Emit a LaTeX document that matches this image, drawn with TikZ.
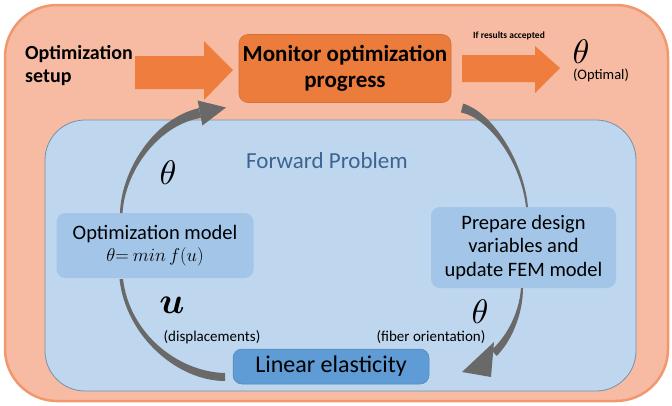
\documentclass[tikz,border=0pt]{standalone}
\usepackage{graphicx}
\usepackage{amsmath}
\usepackage{fontspec}
\setmainfont{Carlito}
\definecolor{outerfill}{RGB}{246,187,162}
\definecolor{outerdraw}{RGB}{241,152,110}
\definecolor{innerfill}{RGB}{190,215,238}
\definecolor{innerdraw}{RGB}{120,145,170}
\definecolor{monfill}{RGB}{236,124,60}
\definecolor{blockcol}{RGB}{238,125,62}
\definecolor{lightbox}{RGB}{163,198,232}
\definecolor{linbox}{RGB}{95,155,212}
\definecolor{arcgray}{RGB}{105,105,105}
\definecolor{fwdtext}{RGB}{60,100,145}
\newcommand{\fs}[1]{\fontsize{#1}{1.15\dimexpr #1pt\relax}\selectfont}
\newcommand{\scmath}[2]{\scalebox{#1}{$#2$}}
\begin{document}
\begin{tikzpicture}[x=1pt,y=-1pt,
  boxbase/.style={rounded corners=9pt, inner sep=0pt, align=center, text=black},
  monbox/.style={boxbase, fill=monfill, draw=monfill!90!black, line width=0.6pt},
  lightnode/.style={boxbase, fill=lightbox},
  linnode/.style={boxbase, fill=linbox, draw=linbox!85!black, line width=0.5pt},
  label/.style={inner sep=0pt, align=center},
  arcfill/.style={fill=arcgray},
  blockfill/.style={fill=blockcol}]
\useasboundingbox (0,0) rectangle (672,405);
% frames
\draw[fill=outerfill, draw=outerdraw, line width=2.5pt, rounded corners=52pt] (5,5) rectangle (668,401);
\draw[fill=innerfill, draw=innerdraw, line width=0.8pt, rounded corners=40pt] (45,120) rectangle (636,391);

% nodes
\node[label, anchor=west, align=left, font=\fs{20}\bfseries] (setup) at (25,66) {Optimization\\setup};
\node[monbox, minimum width=212pt, minimum height=68pt, font=\fs{23}\bfseries] (mon) at (345,68.5) {Monitor optimization\\progress};
\node[label, font=\fs{9.5}\bfseries] (acc) at (509,36) {If results accepted};
\node[label] (thopt) at (581,52) {\scmath{3.4}{\theta}};
\node[label, font=\fs{14.5}] (optl) at (601,75) {(Optimal)};
\node[label, font=\fs{23}, text=fwdtext] (fwd) at (327,161) {Forward Problem};

\node[lightnode, minimum width=197pt, minimum height=65pt, font=\fs{20.5}] (opt) at (155,245.5)
  {Optimization model\\[-2pt]\scmath{0.9}{\theta{=}\ min\,f(u)}};
\node[lightnode, minimum width=185pt, minimum height=81pt, font=\fs{20.5}] (prep) at (523.5,247.5)
  {Prepare design\\variables and\\update FEM model};
\node[linnode, minimum width=196pt, minimum height=35pt, font=\fs{24}] (lin) at (331,366.5) {Linear elasticity};

\node[label] (thl) at (168,173) {\scmath{3.4}{\theta}};
\node[label] (ul) at (172,305) {\scmath{3.7}{\boldsymbol{u}}};
\node[label, font=\fs{15}] (disp) at (212,337) {(displacements)};
\node[label] (thr) at (480,312) {\scmath{3.4}{\theta}};
\node[label, font=\fs{15}] (fib) at (431,337) {(fiber orientation)};

% block arrows
\coordinate (ba0) at (135,72);
\coordinate (ba1) at (233,70);
\fill[blockfill] (135,56) -- (204,56) -- (204,41) -- (ba1) -- (204,100) -- (204,89) -- (135,89) -- cycle;
\coordinate (bb0) at (462,68);
\coordinate (bb1) at (560,68);
\fill[blockfill] (462,55) -- (535,55) -- (535,46) -- (bb1) -- (535,93) -- (535,82) -- (462,82) -- cycle;

% curved arrows (tapered)
% lin -> opt
\fill[arcfill] (225,373) .. controls (178,372) and (129.5,333.5) .. (123,279)
   -- (119.5,279) .. controls (126,337) and (178,381) .. (225,381) -- cycle;
% opt -> mon
\fill[arcfill] (120,213) .. controls (121,172) and (152.6,118.8) .. (199,108.1)
   -- (201,117.9) .. controls (157.4,125.2) and (125,172) .. (122.5,213) -- cycle;
\fill[arcfill] (197.6,100.5) -- (226,107.5) -- (202.4,125.5) -- cycle;
% mon -> prep
\fill[arcfill] (463.1,103.6) .. controls (491.4,111.9) and (523.4,159.5) .. (528,207)
   -- (526,207) .. controls (520.6,160.5) and (488.6,118.1) .. (460.9,112.4) -- cycle;
% prep -> lin
\fill[arcfill] (523,288) .. controls (523,315) and (510.8,342.1) .. (496.7,355.9)
   -- (491.3,350.1) .. controls (505.2,337.9) and (519,315) .. (521,288) -- cycle;
\fill[arcfill] (494,342) -- (491,377) -- (462,372) -- cycle;
\end{tikzpicture}
\end{document}
